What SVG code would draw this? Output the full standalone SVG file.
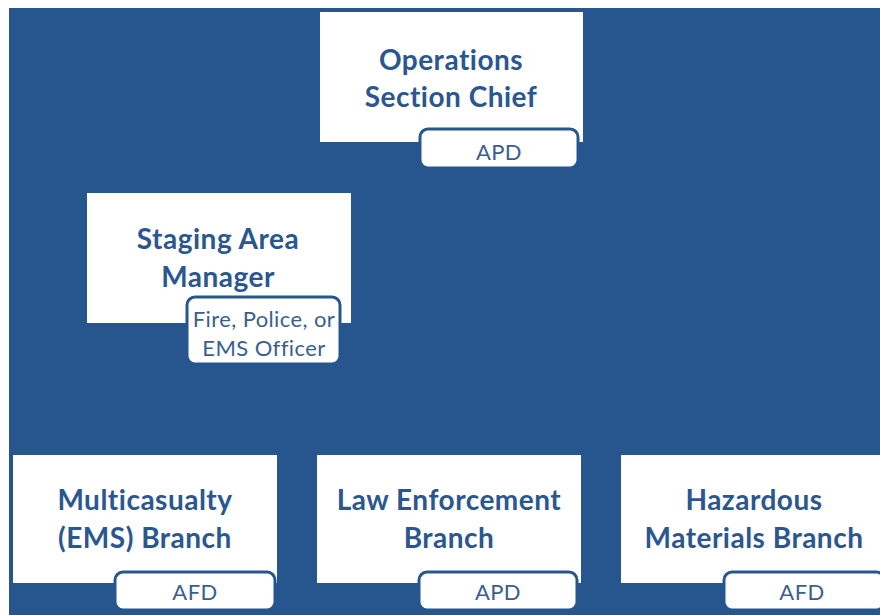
<svg xmlns="http://www.w3.org/2000/svg" width="880" height="615" viewBox="0 0 880 615">
<style>
.box{fill:#ffffff;}
.tag{fill:#ffffff;stroke:#27568f;stroke-width:3;}
.t{font-family:Lato,"Open Sans","Liberation Sans",sans-serif;font-weight:bold;font-size:28px;letter-spacing:0.5px;fill:#2b5791;text-anchor:middle;}
.s{font-family:Lato,"Open Sans","Liberation Sans",sans-serif;font-size:22px;letter-spacing:0.4px;fill:#3a5f8f;text-anchor:middle;}
</style>
<rect x="0" y="0" width="880" height="615" fill="#ffffff"/>
<rect x="9" y="8" width="871" height="607" fill="#27568f"/>
<g id="connectors"/>
<g id="ops">
<rect class="box" x="320" y="12" width="263" height="130"/>
<rect class="tag" x="420" y="129" width="158" height="39" rx="8"/>
<text class="t" x="451" y="70">Operations</text>
<text class="t" x="451" y="107">Section Chief</text>
<text class="s" x="499" y="160">APD</text>
</g>
<g id="staging">
<rect class="box" x="87" y="193" width="264" height="130"/>
<rect class="tag" x="187" y="297" width="153" height="67" rx="8"/>
<text class="t" x="218" y="249">Staging Area</text>
<text class="t" x="218" y="287">Manager</text>
<text class="s" x="264" y="327">Fire, Police, or</text>
<text class="s" x="264" y="356">EMS Officer</text>
</g>
<g id="multi">
<rect class="box" x="13" y="455" width="264" height="128"/>
<rect class="tag" x="115" y="572" width="160" height="38" rx="8"/>
<text class="t" x="145" y="510">Multicasualty</text>
<text class="t" x="145" y="548">(EMS) Branch</text>
<text class="s" x="195" y="600">AFD</text>
</g>
<g id="law">
<rect class="box" x="317" y="455" width="264" height="128"/>
<rect class="tag" x="419" y="572" width="158" height="38" rx="8"/>
<text class="t" x="449" y="510">Law Enforcement</text>
<text class="t" x="449" y="548">Branch</text>
<text class="s" x="498" y="600">APD</text>
</g>
<g id="hazmat">
<rect class="box" x="621" y="455" width="264" height="128"/>
<rect class="tag" x="724" y="572" width="160" height="38" rx="8"/>
<text class="t" x="754" y="510">Hazardous</text>
<text class="t" x="754" y="548">Materials Branch</text>
<text class="s" x="802" y="600">AFD</text>
</g>
</svg>
